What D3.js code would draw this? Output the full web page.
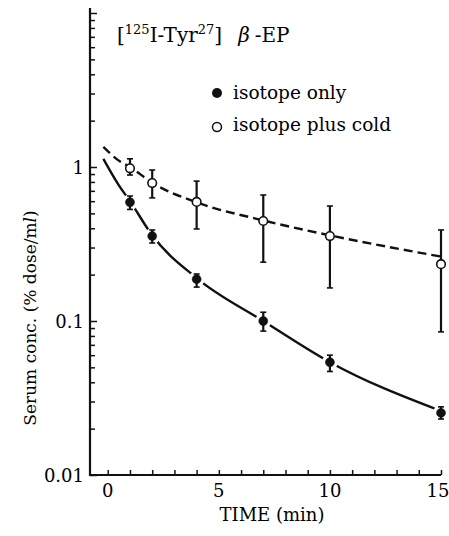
<!DOCTYPE html>
<html>
<head>
<meta charset="utf-8">
<script src="https://cdn.jsdelivr.net/npm/d3@7"></script>
<style>
  body { margin: 0; background: #fff; }
</style>
</head>
<body>
<div id="chart"></div>
<script>
// data (time in min, serum conc. in % dose/ml)
var times = [1, 2, 4, 7, 10, 15];

var onlyMean = [0.59, 0.356, 0.187, 0.100, 0.054, 0.0253];
var onlyLow  = [0.53, 0.321, 0.166, 0.086, 0.047, 0.0231];
var onlyHigh = [0.648, 0.39, 0.202, 0.114, 0.060, 0.0277];

var coldMean = [0.98, 0.787, 0.593, 0.446, 0.356, 0.234];
var coldLow  = [0.887, 0.63, 0.396, 0.241, 0.164, 0.085];
var coldHigh = [1.13, 0.956, 0.81, 0.658, 0.558, 0.39];

// fitted curves
var fitTimes = [-0.2, 0.5, 1, 2, 4, 7, 10, 15];
var onlyFit  = [1.13, 0.76, 0.6, 0.36, 0.19, 0.10, 0.054, 0.026];
var coldFit  = [1.35, 1.1, 1.0, 0.79, 0.59, 0.45, 0.36, 0.262];

var xTicks = d3.range(0, 16);
var xLabels = [0, 5, 10, 15];
var yLabels = [0.01, 0.1, 1];

var serif = "'DejaVu Serif', 'Liberation Serif', serif";
var W = 449, H = 536;
var plotLeft = 90, plotBottom = 475, plotRight = 441, plotTop = 13;

var svg = d3.select("#chart").append("svg")
    .attr("width", W)
    .attr("height", H)
    .style("font-family", serif);

var x = d3.scaleLinear().domain([-0.8, 15]).range([plotLeft, plotRight]);
var y = d3.scaleLog().domain([0.01, 10]).range([plotBottom, plotTop]);

// log ticks 1..9 per decade
var yTicks = [];
[0.01, 0.1, 1].forEach(function(d) {
    for (var k = 1; k <= 9; k++) yTicks.push(d * k);
});
yTicks.push(10);

// y axis
var yAxis = svg.append("g")
    .attr("transform", "translate(" + plotLeft + ",0)")
    .call(d3.axisLeft(y).tickValues(yTicks).tickSize(0).tickFormat(""));
yAxis.select(".domain").remove();
yAxis.selectAll(".tick line")
    .attr("x2", function(d, i) { return i % 9 == 0 ? 7 : 5; })
    .attr("stroke", "#111").attr("stroke-width", 1.5);

svg.append("line")
    .attr("x1", plotLeft).attr("x2", plotLeft)
    .attr("y1", 8).attr("y2", plotBottom + 1)
    .attr("stroke", "#111").attr("stroke-width", 2.2);

svg.selectAll(".ylab")
    .data(yLabels)
    .enter().append("text")
    .attr("class", "ylab")
    .attr("x", plotLeft - 6)
    .attr("y", function(d) { return y(d) + 7; })
    .attr("text-anchor", "end")
    .style("font-size", "18px")
    .text(function(d) { return d; });

// x axis
var xAxis = svg.append("g")
    .attr("transform", "translate(0," + plotBottom + ")")
    .call(d3.axisBottom(x).tickValues(xTicks).tickSize(0).tickFormat(""));
xAxis.select(".domain").remove();
xAxis.selectAll(".tick line")
    .attr("y2", -5)
    .attr("stroke", "#111").attr("stroke-width", 1.5);

svg.append("line")
    .attr("x1", plotLeft - 1).attr("x2", plotRight)
    .attr("y1", plotBottom).attr("y2", plotBottom)
    .attr("stroke", "#111").attr("stroke-width", 2.2);

svg.selectAll(".xlab")
    .data(xLabels)
    .enter().append("text")
    .attr("class", "xlab")
    .attr("x", function(d) { return d == 15 ? x(d) - 3 : x(d); })
    .attr("y", plotBottom + 22)
    .attr("text-anchor", "middle")
    .style("font-size", "18px")
    .text(function(d) { return d; });

svg.append("text")
    .attr("x", 272)
    .attr("y", 521)
    .attr("text-anchor", "middle")
    .style("font-size", "18px")
    .text("TIME (min)");

var yt = svg.append("text")
    .attr("transform", "translate(36,318) rotate(-90)")
    .attr("text-anchor", "middle")
    .style("font-size", "17px");
yt.append("tspan").text("Serum conc. (% dose/m");
yt.append("tspan").style("font-style", "italic").text("l");
yt.append("tspan").text(")");

// title
var title = svg.append("text")
    .attr("x", 117)
    .attr("y", 42)
    .style("font-size", "20px");
title.append("tspan").text("[");
title.append("tspan").attr("dy", -8).style("font-size", "13px").text("125");
title.append("tspan").attr("dy", 8).text("I-Tyr");
title.append("tspan").attr("dy", -8).style("font-size", "13px").text("27");
title.append("tspan").attr("dy", 8).text("]");
title.append("tspan").attr("dx", 16).style("font-style", "italic").text("β");
title.append("tspan").attr("dx", 5).text("-EP");

// legend
svg.append("circle").attr("cx", 217).attr("cy", 93).attr("r", 5).attr("fill", "#111");
svg.append("text").attr("x", 233).attr("y", 99).style("font-size", "18.5px").text("isotope only");
svg.append("circle").attr("cx", 217).attr("cy", 127).attr("r", 4.5)
    .attr("fill", "#fff").attr("stroke", "#111").attr("stroke-width", 1.5);
svg.append("text").attr("x", 233).attr("y", 131).style("font-size", "18.5px").text("isotope plus cold");

// fitted curves
var line = d3.line()
    .x(function(d) { return x(d[0]); })
    .y(function(d) { return y(d[1]); })
    .curve(d3.curveMonotoneX);

svg.append("path")
    .datum(d3.zip(fitTimes, coldFit))
    .attr("d", line)
    .attr("fill", "none")
    .attr("stroke", "#111")
    .attr("stroke-width", 2.4)
    .attr("stroke-dasharray", "9,5");

svg.append("path")
    .datum(d3.zip(fitTimes, onlyFit))
    .attr("d", line)
    .attr("fill", "none")
    .attr("stroke", "#111")
    .attr("stroke-width", 2.4);

function drawSeries(mean, low, high, filled) {
    var pts = times.map(function(t, i) {
        return {t: t, m: mean[i], lo: low[i], hi: high[i]};
    });
    var g = svg.append("g");
    // small white gap where the curve meets the marker
    if (filled) {
        g.selectAll(".halo").data(pts).enter().append("circle")
            .attr("cx", function(d) { return x(d.t); })
            .attr("cy", function(d) { return y(d.m); })
            .attr("r", 8)
            .attr("fill", "#fff");
    }
    g.selectAll(".bar").data(pts).enter().append("line")
        .attr("x1", function(d) { return x(d.t); })
        .attr("x2", function(d) { return x(d.t); })
        .attr("y1", function(d) { return y(d.lo); })
        .attr("y2", function(d) { return y(d.hi); })
        .attr("stroke", "#111").attr("stroke-width", 2.2);
    g.selectAll(".capl").data(pts).enter().append("line")
        .attr("x1", function(d) { return x(d.t) - 3; })
        .attr("x2", function(d) { return x(d.t) + 3; })
        .attr("y1", function(d) { return y(d.lo); })
        .attr("y2", function(d) { return y(d.lo); })
        .attr("stroke", "#111").attr("stroke-width", 1.6);
    g.selectAll(".caph").data(pts).enter().append("line")
        .attr("x1", function(d) { return x(d.t) - 3; })
        .attr("x2", function(d) { return x(d.t) + 3; })
        .attr("y1", function(d) { return y(d.hi); })
        .attr("y2", function(d) { return y(d.hi); })
        .attr("stroke", "#111").attr("stroke-width", 1.6);
    g.selectAll(".dot").data(pts).enter().append("circle")
        .attr("cx", function(d) { return x(d.t); })
        .attr("cy", function(d) { return y(d.m); })
        .attr("r", filled ? 4.5 : 4.3)
        .attr("fill", filled ? "#111" : "#fff")
        .attr("stroke", "#111")
        .attr("stroke-width", filled ? 0.5 : 1.6);
}

drawSeries(onlyMean, onlyLow, onlyHigh, true);
drawSeries(coldMean, coldLow, coldHigh, false);
</script>
</body>
</html>
